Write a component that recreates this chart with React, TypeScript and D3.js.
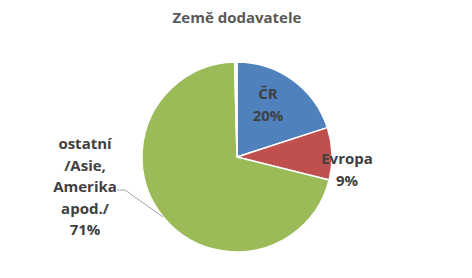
import React from "react";
import * as d3 from "d3";

const categories = ["ČR", "Evropa", "ostatní /Asie, Amerika apod./", ""];
const values = [20, 8.9, 70.7, 0.4];
const colors = ["#4F81BD", "#C0504D", "#9BBB59", "#EEF0F3"];
const labelLines: string[][] = [["ČR"], ["Evropa"], ["ostatní", "/Asie,", "Amerika", "apod./"], []];
const title = "Země dodavatele";

const W = 472;
const H = 278;
const cx = 237;
const cy = 157;
const R = 95;
const font = "'Open Sans', sans-serif";

export default function App() {
  const total = d3.sum(values);
  const pie = d3.pie<number>().sort(null).value((d) => d)(values);
  const arc = d3.arc<d3.PieArcDatum<number>>().innerRadius(0).outerRadius(R);
  const pct = values.map((v) => Math.round((v / total) * 100) + "%");

  // label anchor positions (relative to centre)
  const labelPos = [
    { x: 31, y: -64 },
    { x: 110, y: 1 },
    { x: -152, y: -14 },
  ];
  const lh = 21.5;

  return (
    <svg width={W} height={H} style={{ position: "absolute", left: 0, top: 0, background: "#fff" }}>
      <text x={cx} y={23} textAnchor="middle" fontFamily={font} fontWeight={700} fontSize={15} fill="#595959">
        {title}
      </text>
      <g transform={`translate(${cx},${cy})`}>
        {pie.map((p, i) => (
          <path key={i} d={arc(p) || ""} fill={colors[i]} stroke="#fff" strokeWidth={1.5} strokeLinejoin="round" />
        ))}
        <polyline points="-120,33 -112,33 -74,60" fill="none" stroke="#A6A6A6" strokeWidth={1} />
        {labelPos.map((lp, i) => {
          const lines = [...labelLines[i], pct[i]];
          return (
            <text key={i} textAnchor="middle" fontFamily={font} fontWeight={700} fontSize={15} fill="#404040">
              {lines.map((ln, j) => (
                <tspan key={j} x={lp.x} y={lp.y + j * lh} dominantBaseline="central">
                  {ln}
                </tspan>
              ))}
            </text>
          );
        })}
      </g>
    </svg>
  );
}
